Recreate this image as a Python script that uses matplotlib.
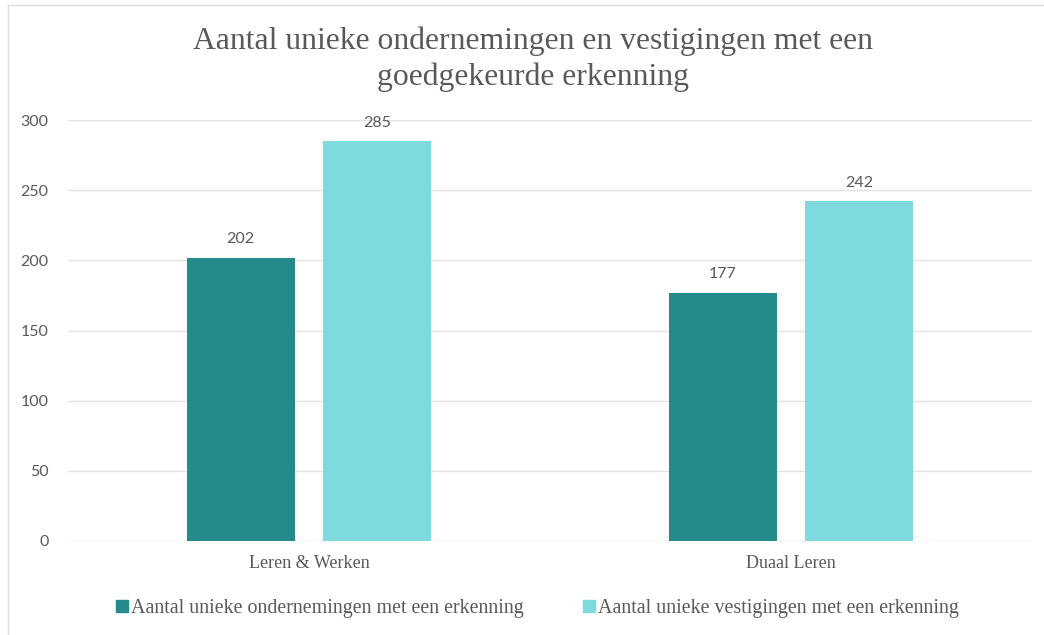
import matplotlib.pyplot as plt
import numpy as np
from matplotlib.lines import Line2D

# data
categories = ['Leren & Werken', 'Duaal Leren']
ondernemingen = [202, 177]
vestigingen = [285, 242]
series_names = ['Aantal unieke ondernemingen met een erkenning',
                'Aantal unieke vestigingen met een erkenning']
yticks = [0, 50, 100, 150, 200, 250, 300]

dark = '#258a8c'
light = '#7ddbe0'
txt = '#595959'

plt.rcParams['font.family'] = ['Liberation Serif', 'DejaVu Serif']

fig = plt.figure(figsize=(10.44, 6.35), dpi=100)
ax = fig.add_axes([68 / 1044, 1 - 541 / 635, 964 / 1044, 421 / 635])

x = np.arange(len(categories))
w = 0.224
off = 0.142
b1 = ax.bar(x - off, ondernemingen, w, color=dark, label=series_names[0], zorder=3)
b2 = ax.bar(x + off, vestigingen, w, color=light, label=series_names[1], zorder=3)

for bars in (b1, b2):
    for r in bars:
        ax.text(r.get_x() + r.get_width() / 2, r.get_height() + 8, str(int(r.get_height())),
                ha='center', va='bottom', fontsize=11.5, color=txt, family='Lato')

ax.set_xlim(-0.5, 1.5)
ax.set_ylim(0, 300)
ax.set_yticks(yticks)
ax.set_yticklabels([str(t) for t in yticks], family='Lato', fontsize=11.5, color=txt)
ax.set_xticks(x)
ax.set_xticklabels(categories, fontsize=13, color=txt)
ax.tick_params(length=0)
ax.tick_params(axis='y', pad=14)
ax.tick_params(axis='x', pad=10)
ax.grid(axis='y', color='#e3e3e3', linewidth=1, zorder=0)
for s in ax.spines.values():
    s.set_visible(False)

fig.text(533 / 1044, 1 - 59 / 635,
         'Aantal unieke ondernemingen en vestigingen met een\ngoedgekeurde erkenning',
         ha='center', va='center', fontsize=22.8, color=txt, linespacing=1.3)

handles = [Line2D([], [], marker='s', linestyle='none', color=dark, markersize=9),
           Line2D([], [], marker='s', linestyle='none', color=light, markersize=9)]
fig.legend(handles, series_names, loc='center', bbox_to_anchor=(537 / 1044, 1 - 608 / 635),
           ncol=2, frameon=False, fontsize=14.4, labelcolor=txt,
           handletextpad=0.1, columnspacing=2.9, handlelength=0.7)

# outer border of the chart area
fig.add_artist(Line2D([8 / 1044, 8 / 1044], [0, 1 - 5 / 635], color='#dcdcdc', lw=1,
                      transform=fig.transFigure))
fig.add_artist(Line2D([8 / 1044, 1], [1 - 5 / 635, 1 - 5 / 635], color='#dcdcdc', lw=1,
                      transform=fig.transFigure))

plt.savefig('out.png', dpi=100)
